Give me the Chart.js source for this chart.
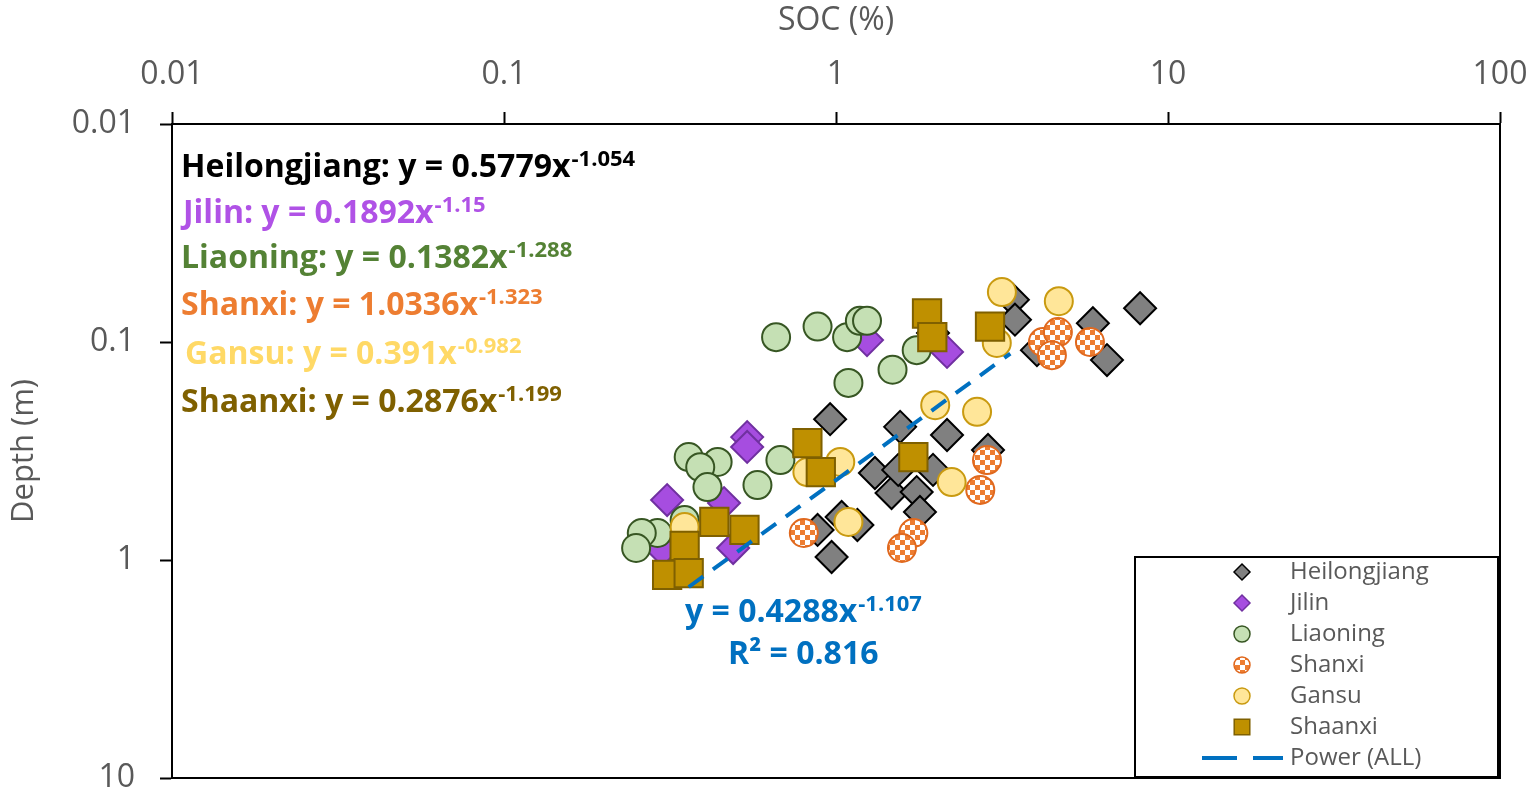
<!DOCTYPE html>
<html>
<head>
<meta charset="utf-8">
<script src="https://cdn.jsdelivr.net/npm/chart.js@4.4.1/dist/chart.umd.min.js"></script>
<style>
html,body{margin:0;padding:0;background:#fff;overflow:hidden;}
</style>
</head>
<body>
<canvas id="myChart" width="1535" height="800"></canvas>
<script>
// axis ticks
const xTicks = [0.01, 0.1, 1, 10, 100];
const xTickLabels = ['0.01', '0.1', '1', '10', '100'];
const yTicks = [0.01, 0.1, 1, 10];
const yTickLabels = ['0.01', '0.1', '1', '10'];

// series: SOC (%) and depth (m)
const seriesNames = ['Heilongjiang', 'Jilin', 'Liaoning', 'Shanxi', 'Gansu', 'Shaanxi'];

const hljSOC = [0.96, 1.56, 2.16, 1.31, 1.47, 1.54, 1.96, 1.75, 1.79, 2.87, 0.88, 1.04, 1.16, 0.97, 3.41, 3.46, 5.94, 6.55, 8.24, 4.03, 1.96];
const hljDepth = [0.226, 0.245, 0.267, 0.399, 0.493, 0.386, 0.386, 0.488, 0.602, 0.313, 0.728, 0.635, 0.691, 0.969, 0.064, 0.079, 0.082, 0.121, 0.070, 0.109, 0.091];

const jilinSOC = [0.54, 0.54, 0.31, 0.46, 0.49, 0.30, 1.24, 2.16];
const jilinDepth = [0.273, 0.303, 0.531, 0.548, 0.881, 0.90, 0.098, 0.111];

const lnSOC = [0.66, 0.88, 1.08, 1.18, 1.24, 1.09, 1.48, 1.75, 0.68, 0.36, 0.44, 0.39, 0.41, 0.58, 0.35, 0.29, 0.26, 0.25];
const lnDepth = [0.095, 0.085, 0.095, 0.080, 0.080, 0.154, 0.134, 0.109, 0.348, 0.337, 0.355, 0.375, 0.463, 0.453, 0.656, 0.752, 0.752, 0.881];

const sxSOC = [0.80, 2.85, 2.72, 1.71, 1.58, 4.20, 4.66, 4.47, 5.82];
const sxDepth = [0.752, 0.348, 0.477, 0.752, 0.881, 0.100, 0.090, 0.115, 0.100];

const gsSOC = [3.16, 4.69, 3.05, 1.99, 2.66, 1.03, 0.82, 2.23, 1.09, 0.35];
const gsDepth = [0.059, 0.065, 0.101, 0.195, 0.209, 0.355, 0.395, 0.439, 0.669, 0.706];

const snSOC = [1.88, 1.95, 2.91, 0.82, 0.90, 1.71, 0.43, 0.53, 0.35, 0.31, 0.36];
const snDepth = [0.074, 0.095, 0.085, 0.291, 0.395, 0.337, 0.669, 0.728, 0.862, 1.17, 1.15];

// Power (ALL) trendline ends
const trendSOC = [0.36, 3.35];
const trendDepth = [1.33, 0.113];

// equation texts
const eqTexts = ['Heilongjiang: y = 0.5779x', 'Jilin: y = 0.1892x', 'Liaoning: y = 0.1382x', 'Shanxi: y = 1.0336x', 'Gansu: y = 0.391x', 'Shaanxi: y = 0.2876x'];
const eqPowers = ['-1.054', '-1.15', '-1.288', '-1.323', '-0.982', '-1.199'];
const eqColors = ['#000000', '#b052e6', '#548235', '#ed7d31', '#ffd966', '#7f6000'];

function pts(xs, ys) {
    return xs.map((v, i) => ({x: v, y: ys[i]}));
}

// checker fill for Shanxi
function checker() {
    let c = document.createElement('canvas');
    c.width = 10; c.height = 10;
    let g = c.getContext('2d');
    g.fillStyle = '#ffffff'; g.fillRect(0, 0, 10, 10);
    g.fillStyle = '#ed7d31';
    g.fillRect(0, 0, 5, 5);
    g.fillRect(5, 5, 5, 5);
    return document.createElement('canvas').getContext('2d').createPattern(c, 'repeat');
}
const sxFill = checker();

const FONT = "'Open Sans', sans-serif";
const GREY = '#595959';

function marker(ctx, style, x, y, r) {
    ctx.beginPath();
    if (style === 'rectRot') {
        ctx.moveTo(x - r, y); ctx.lineTo(x, y - r); ctx.lineTo(x + r, y); ctx.lineTo(x, y + r);
        ctx.closePath();
    } else if (style === 'rect') {
        let s = r * Math.SQRT1_2;
        ctx.rect(x - s, y - s, 2 * s, 2 * s);
    } else {
        ctx.arc(x, y, r, 0, Math.PI * 2);
    }
    ctx.fill();
    ctx.stroke();
}

function supText(ctx, txt, sup, x, y, size, color) {
    ctx.fillStyle = color;
    ctx.font = 'bold ' + size + 'px ' + FONT;
    ctx.fillText(txt, x, y);
    let w = ctx.measureText(txt).width;
    ctx.font = 'bold ' + Math.round(size * 0.69) + 'px ' + FONT;
    ctx.fillText(sup, x + w + 1, y - size * 0.34);
}

const framePlugin = {
    id: 'frame',
    beforeDatasetsDraw(chart) {
        const a = chart.chartArea, ctx = chart.ctx;
        ctx.save();
        ctx.strokeStyle = '#000';
        ctx.lineWidth = 2;
        ctx.beginPath();
        ctx.moveTo(a.right, a.top); ctx.lineTo(a.right, a.bottom); ctx.lineTo(a.left, a.bottom);
        ctx.stroke();
        ctx.restore();
    },
    afterDraw(chart) {
        const ctx = chart.ctx;
        ctx.save();
        ctx.textAlign = 'left';
        ctx.textBaseline = 'alphabetic';

        // series equations
        const ex = [181, 183, 181, 181, 185, 181];
        const ey = [177, 223, 268, 315, 364, 412];
        eqTexts.forEach((t, i) => supText(ctx, t, eqPowers[i], ex[i], ey[i], 32, eqColors[i]));

        // overall fit
        supText(ctx, 'y = 0.4288x', '-1.107', 685, 622, 32, '#0070c0');
        ctx.font = 'bold 32px ' + FONT;
        ctx.fillText('R² = 0.816', 728, 664);

        // legend box
        ctx.fillStyle = '#fff';
        ctx.fillRect(1135, 557, 363, 220);
        ctx.strokeStyle = '#000';
        ctx.lineWidth = 2;
        ctx.strokeRect(1135, 557, 363, 220);
        ctx.font = '24px ' + FONT;
        ctx.textBaseline = 'middle';
        chart.data.datasets.forEach((ds, i) => {
            const y = 572 + i * 31;
            if (ds.showLine) {
                ctx.strokeStyle = ds.borderColor;
                ctx.lineWidth = 4;
                ctx.beginPath();
                ctx.moveTo(1202, y); ctx.lineTo(1237, y);
                ctx.moveTo(1253, y); ctx.lineTo(1283, y);
                ctx.stroke();
            } else {
                ctx.fillStyle = ds.backgroundColor;
                ctx.strokeStyle = ds.borderColor;
                ctx.lineWidth = 1.5;
                marker(ctx, ds.pointStyle, 1242, y, ds.pointStyle === 'rect' ? 11 : 8);
            }
            ctx.fillStyle = GREY;
            ctx.fillText(ds.label, 1290, y);
        });
        ctx.restore();
    }
};

const ctx = document.getElementById('myChart').getContext('2d');
const myChart = new Chart(ctx, {
    type: 'scatter',
    data: {
        datasets: [
            {label: seriesNames[0], data: pts(hljSOC, hljDepth), pointStyle: 'rectRot', pointRadius: 16,
             backgroundColor: '#808080', borderColor: '#000000', borderWidth: 2, order: 6},
            {label: seriesNames[1], data: pts(jilinSOC, jilinDepth), pointStyle: 'rectRot', pointRadius: 16,
             backgroundColor: '#a64de0', borderColor: '#7030a0', borderWidth: 2, order: 5},
            {label: seriesNames[2], data: pts(lnSOC, lnDepth), pointStyle: 'circle', pointRadius: 14,
             backgroundColor: '#c5e0b4', borderColor: '#375623', borderWidth: 2, order: 4},
            {label: seriesNames[3], data: pts(sxSOC, sxDepth), pointStyle: 'circle', pointRadius: 14,
             backgroundColor: sxFill, borderColor: '#e0691f', borderWidth: 2, order: 3},
            {label: seriesNames[4], data: pts(gsSOC, gsDepth), pointStyle: 'circle', pointRadius: 14,
             backgroundColor: '#ffe699', borderColor: '#c99a10', borderWidth: 2, order: 2},
            {label: seriesNames[5], data: pts(snSOC, snDepth), pointStyle: 'rect', pointRadius: 20,
             backgroundColor: '#bf9000', borderColor: '#7f6000', borderWidth: 2, order: 1},
            {label: 'Power (ALL)', data: pts(trendSOC, trendDepth), showLine: true, pointRadius: 0,
             borderColor: '#0070c0', backgroundColor: '#0070c0', borderWidth: 4, borderDash: [18, 12], order: 0}
        ]
    },
    options: {
        responsive: false,
        animation: false,
        devicePixelRatio: 1,
        events: [],
        clip: false,
        // point overflow forces at least 22px on every side; canvas is 4px taller than the window for that
        layout: {padding: {left: 0, top: 0, right: 35, bottom: 22}},
        plugins: {
            legend: {display: false},
            tooltip: {enabled: false}
        },
        scales: {
            x: {
                type: 'logarithmic',
                position: 'top',
                min: 0.01,
                max: 100,
                afterBuildTicks: (s) => { s.ticks = xTicks.map(v => ({value: v})); },
                afterFit: (s) => { s.height = 124; s.paddingLeft = 0; s.paddingRight = 0; },
                ticks: {
                    autoSkip: false,
                    maxRotation: 0,
                    padding: 18,
                    color: GREY,
                    font: {family: FONT, size: 32},
                    callback: (v, i) => xTickLabels[i]
                },
                grid: {display: true, drawOnChartArea: false, drawTicks: true, tickLength: 12, tickColor: '#000', tickWidth: 2},
                border: {display: true, color: '#000', width: 2},
                title: {display: true, text: 'SOC (%)', color: GREY, font: {family: FONT, size: 32}, padding: {top: 2, bottom: 0}}
            },
            y: {
                type: 'logarithmic',
                position: 'left',
                reverse: true,
                min: 0.01,
                max: 10,
                afterBuildTicks: (s) => { s.ticks = yTicks.map(v => ({value: v})); },
                afterFit: (s) => { s.width = 172; s.paddingTop = 0; s.paddingBottom = 0; },
                ticks: {
                    autoSkip: false,
                    padding: 25,
                    color: GREY,
                    font: {family: FONT, size: 32},
                    callback: (v, i) => yTickLabels[i]
                },
                grid: {display: true, drawOnChartArea: false, drawTicks: true, tickLength: 12, tickColor: '#000', tickWidth: 2},
                border: {display: true, color: '#000', width: 2},
                title: {display: true, text: 'Depth (m)', color: GREY, font: {family: FONT, size: 31}, padding: {top: 6, bottom: 0}}
            }
        }
    },
    plugins: [framePlugin]
});
</script>
</body>
</html>
